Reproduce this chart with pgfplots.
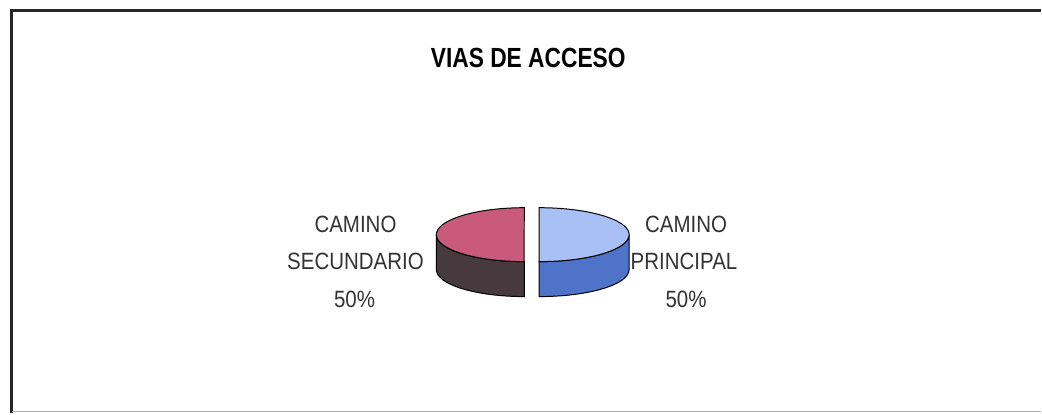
\documentclass[border=0pt]{standalone}
\usepackage{fontspec}
\setmainfont{Liberation Sans}
\usepackage{pgfplots}
\pgfplotsset{compat=1.18}
\usepackage{graphicx}
\definecolor{topRed}{HTML}{C95A7E}
\definecolor{sideDark}{HTML}{463A3E}
\definecolor{topBlue}{HTML}{A8C0F5}
\definecolor{sideBlue}{HTML}{4F73C9}
\definecolor{lbl}{HTML}{333333}
% data: share of each access road (percent)
\def\valSec{50}
\def\valPri{50}
\pgfmathsetmacro{\spanSec}{360*(\valSec/(\valSec+\valPri))}
\pgfmathsetmacro{\spanPri}{360*(\valPri/(\valSec+\valPri))}
\pgfmathsetmacro{\secStart}{90}
\pgfmathsetmacro{\secEnd}{90+\spanSec}
\pgfmathsetmacro{\priStart}{-90}
\pgfmathsetmacro{\priEnd}{-90+\spanPri}
\begin{document}
\begin{tikzpicture}
\begin{axis}[width=1042pt,height=414pt,scale only axis,
  xmin=0,xmax=1042,ymin=0,ymax=414,axis lines=none,clip=false,
  ticks=none]
\path (axis cs:0,0) rectangle (axis cs:1042,414);
% frame
\draw[line width=3pt,color=black!85] (axis cs:12,0) -- (axis cs:12,403) -- (axis cs:1042,403);
\draw[line width=1pt,color=black!30] (axis cs:12,2) -- (axis cs:1042,2);
% title
\node[font=\bfseries\fontsize{23.5}{26}\selectfont] at (axis cs:529,356) {\scalebox{0.97}[1.18]{VIAS DE ACCESO}};
% left slice (Camino secundario): side, then top
\addplot[fill=sideDark,draw=black,line width=1pt,domain=180:270,samples=40]
  ({525+88*cos(x)},{179+27*sin(x)}) -- ++(0pt,-35pt)
  arc[start angle=270,end angle=180,x radius=88pt,y radius=27pt] -- cycle;
\addplot[fill=topRed,draw=black,line width=1pt,domain=\secStart:\secEnd,samples=80]
  ({525+88*cos(x)},{179+27*sin(x)}) -- cycle;
% right slice (Camino principal)
\addplot[fill=sideBlue,draw=black,line width=1pt,domain=-90:0,samples=40]
  ({540+90*cos(x)},{179+27*sin(x)}) -- ++(0pt,-35pt)
  arc[start angle=0,end angle=-90,x radius=90pt,y radius=27pt] -- cycle;
\addplot[fill=topBlue,draw=black,line width=1pt,domain=\priStart:\priEnd,samples=80]
  ({540+90*cos(x)},{179+27*sin(x)}) -- cycle;
% labels
\begin{scope}[every node/.style={font=\fontsize{20.5}{22}\selectfont,text=lbl}]
\node at (axis cs:356,189) {\scalebox{1}[1.15]{CAMINO}};
\node at (axis cs:356,152) {\scalebox{1}[1.15]{SECUNDARIO}};
\node at (axis cs:355,114) {\scalebox{1}[1.15]{50\%}};
\node at (axis cs:687,189) {\scalebox{1}[1.15]{CAMINO}};
\node at (axis cs:685,152) {\scalebox{1}[1.15]{PRINCIPAL}};
\node at (axis cs:687,114) {\scalebox{1}[1.15]{50\%}};
\end{scope}
\end{axis}
\end{tikzpicture}
\end{document}
